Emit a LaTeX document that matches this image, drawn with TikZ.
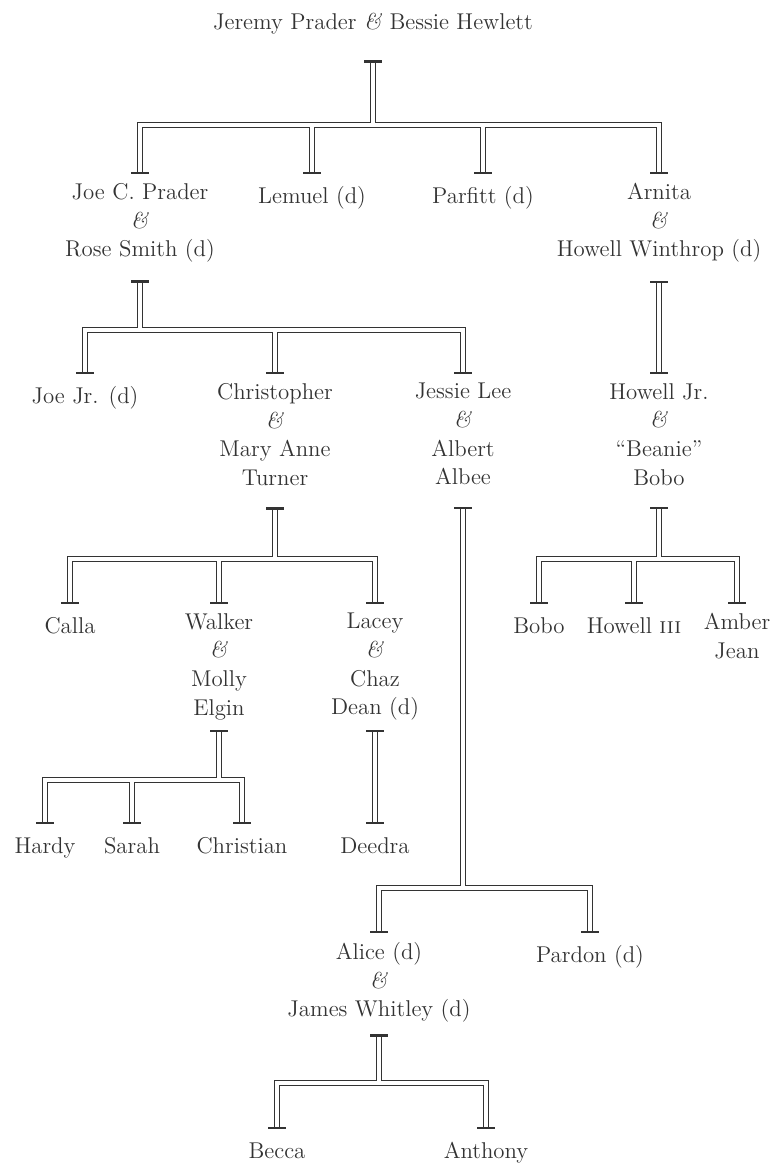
\documentclass[tikz,border=0pt]{standalone}
\usepackage{xcolor}
\usetikzlibrary{positioning}
\definecolor{ink}{gray}{0.2}
\tikzset{
  person/.style = { align = center, inner sep = 0pt, anchor = north, text = ink,
                    font = \fontsize{13}{16.3}\selectfont,
                    execute at begin node = \strut, execute at end node = \strut },
  rail/.style   = { draw = ink, line width = 0.9pt, double = white, double distance = 1.8pt },
  capbar/.style = { draw = ink, line width = 1.4pt }
}
\newcommand{\et}{\textit{\&}}

\begin{document}
\begin{tikzpicture}[x = 0.02cm, y = -0.02cm]
		\useasboundingbox (0,0) rectangle (774,1166);

		% generation 1
		\node [person] (jeremy) at (373,9) {Jeremy Prader \et{} Bessie Hewlett};

		% generation 2
		\node [person] (joe)     at (140,183) {Joe C. Prader\\\et\\Rose Smith (d)};
		\node [person] (lemuel)  at (312,183) {Lemuel (d)};
		\node [person] (parfitt) at (483,183) {Parfitt (d)};
		\node [person] (arnita)  at (659,183) {Arnita\\\et\\Howell Winthrop (d)};

		% generation 3
		\node [person] (joejr)       at (85,383)  {Joe Jr. (d)};
		\node [person] (christopher) at (275,383) {Christopher\\\et\\Mary Anne\\Turner};
		\node [person] (jessie)      at (463,383) {Jessie Lee\\\et\\Albert\\Albee};
		\node [person] (howelljr)    at (659,383) {Howell Jr.\\\et\\``Beanie''\\Bobo};

		% generation 4
		\node [person] (calla)   at (70,613)  {Calla};
		\node [person] (walker)  at (219,613) {Walker\\\et\\Molly\\Elgin};
		\node [person] (lacey)   at (375,613) {Lacey\\\et\\Chaz\\Dean (d)};
		\node [person] (bobo)    at (539,613) {Bobo};
		\node [person] (howell3) at (634,613) {Howell \textsc{iii}};
		\node [person] (amber)   at (737,613) {Amber\\Jean};

		% generation 5
		\node [person] (hardy)     at (45,833)  {Hardy};
		\node [person] (sarah)     at (132,833) {Sarah};
		\node [person] (christian) at (242,833) {Christian};
		\node [person] (deedra)    at (375,833) {Deedra};
		\node [person] (alice)     at (379,942) {Alice (d)\\\et\\James Whitley (d)};
		\node [person] (pardon)    at (590,942) {Pardon (d)};

		% generation 6
		\node [person] (becca)   at (277,1138) {Becca};
		\node [person] (anthony) at (486,1138) {Anthony};

		% bars
		\coordinate (bar1) at (0,125);
		\coordinate (bar2) at (0,330);
		\coordinate (bar3) at (0,559);
		\coordinate (bar4) at (0,780);
		\coordinate (bar5) at (0,888);
		\coordinate (bar6) at (0,1083);

		\draw [rail] ([yshift=2mm]joe.north) |- (bar1 -| arnita) -- ([yshift=2mm]arnita.north)
			([yshift=-4.6mm]jeremy.south) -- (bar1 -| jeremy)
			([yshift=2mm]lemuel.north) -- (bar1 -| lemuel)
			([yshift=2mm]parfitt.north) -- (bar1 -| parfitt);

		\draw [rail] ([yshift=2mm]joejr.north) |- (bar2 -| jessie) -- ([yshift=2mm]jessie.north)
			([yshift=-3.2mm]joe.south) -- (bar2 -| joe)
			([yshift=2mm]christopher.north) -- (bar2 -| christopher);

		\draw [rail] ([yshift=-3.2mm]arnita.south) -- ([yshift=2mm]howelljr.north);

		\draw [rail] ([yshift=2mm]calla.north) |- (bar3 -| lacey) -- ([yshift=2mm]lacey.north)
			([yshift=-2.8mm]christopher.south) -- (bar3 -| christopher)
			([yshift=2mm]walker.north) -- (bar3 -| walker);

		\draw [rail] ([yshift=2mm]bobo.north) |- (bar3 -| amber) -- ([yshift=2mm]amber.north)
			([yshift=-2.8mm]howelljr.south) -- (bar3 -| howelljr)
			([yshift=2mm]howell3.north) -- (bar3 -| howell3);

		\draw [rail] ([yshift=2mm]hardy.north) |- (bar4 -| christian) -- ([yshift=2mm]christian.north)
			([yshift=-1.4mm]walker.south) -- (bar4 -| walker)
			([yshift=2mm]sarah.north) -- (bar4 -| sarah);

		\draw [rail] ([yshift=-1.4mm]lacey.south) -- ([yshift=2mm]deedra.north);

		\draw [rail] ([yshift=2mm]alice.north) |- (bar5 -| pardon) -- ([yshift=2mm]pardon.north)
			([yshift=-2.8mm]jessie.south) -- (bar5 -| jessie);

		\draw [rail] ([yshift=2mm]becca.north) |- (bar6 -| anthony) -- ([yshift=2mm]anthony.north)
			([yshift=-2mm]alice.south) -- (bar6 -| alice);

		% caps
		\foreach \n in {joe, lemuel, parfitt, arnita, joejr, christopher, jessie, howelljr, calla, walker, lacey,
		                bobo, howell3, amber, hardy, sarah, christian, deedra, alice, pardon, becca, anthony}
			\draw [capbar] ([yshift=2mm]\n.north) ++(-9,0) -- ++(18,0);
		\foreach \n/\g in {jeremy/4.6mm, joe/3.2mm, arnita/3.2mm, christopher/2.8mm, jessie/2.8mm,
		                   howelljr/2.8mm, walker/1.4mm, lacey/1.4mm, alice/2mm}
			\draw [capbar] ([yshift=-\g]\n.south) ++(-9,0) -- ++(18,0);
	\end{tikzpicture}
\end{document}
